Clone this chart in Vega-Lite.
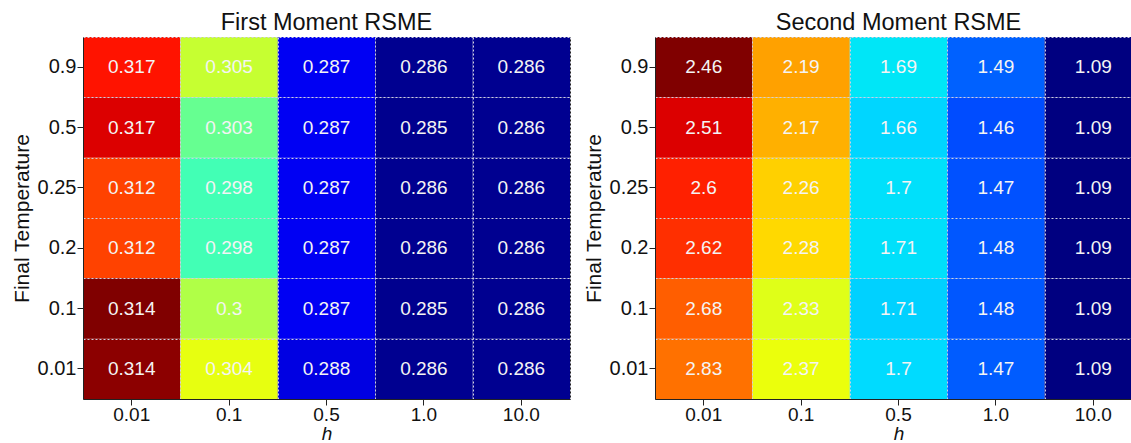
{
  "$schema": "https://vega.github.io/schema/vega-lite/v6.json",
  "padding": {"left": 10, "top": 10, "right": 0, "bottom": 0},
  "background": "white",
  "config": {
    "font": "Liberation Sans",
    "view": {"stroke": "#222", "strokeWidth": 1},
    "axis": {"labelFont": "Liberation Sans", "titleFont": "Liberation Sans", "labelColor": "#111", "titleColor": "#111", "domainColor": "#222", "tickColor": "#222", "labelFontSize": 20, "titleFontSize": 21, "titleFontWeight": "normal", "tickSize": 6, "labelPadding": 1},
    "title": {"fontSize": 23.5, "fontWeight": "normal", "font": "Liberation Sans", "color": "#111", "offset": 3}
  },
  "data": {"values": [
    {"m": "First", "t": "0.9", "h": "0.01", "v": 0.317, "s": 0.89},
    {"m": "First", "t": "0.9", "h": "0.1", "v": 0.305, "s": 0.59},
    {"m": "First", "t": "0.9", "h": "0.5", "v": 0.287, "s": 0.10},
    {"m": "First", "t": "0.9", "h": "1.0", "v": 0.286, "s": 0.014},
    {"m": "First", "t": "0.9", "h": "10.0", "v": 0.286, "s": 0.014},
    {"m": "First", "t": "0.5", "h": "0.01", "v": 0.317, "s": 0.92},
    {"m": "First", "t": "0.5", "h": "0.1", "v": 0.303, "s": 0.474},
    {"m": "First", "t": "0.5", "h": "0.5", "v": 0.287, "s": 0.10},
    {"m": "First", "t": "0.5", "h": "1.0", "v": 0.285, "s": 0.012},
    {"m": "First", "t": "0.5", "h": "10.0", "v": 0.286, "s": 0.014},
    {"m": "First", "t": "0.25", "h": "0.01", "v": 0.312, "s": 0.84},
    {"m": "First", "t": "0.25", "h": "0.1", "v": 0.298, "s": 0.43},
    {"m": "First", "t": "0.25", "h": "0.5", "v": 0.287, "s": 0.10},
    {"m": "First", "t": "0.25", "h": "1.0", "v": 0.286, "s": 0.014},
    {"m": "First", "t": "0.25", "h": "10.0", "v": 0.286, "s": 0.014},
    {"m": "First", "t": "0.2", "h": "0.01", "v": 0.312, "s": 0.84},
    {"m": "First", "t": "0.2", "h": "0.1", "v": 0.298, "s": 0.43},
    {"m": "First", "t": "0.2", "h": "0.5", "v": 0.287, "s": 0.10},
    {"m": "First", "t": "0.2", "h": "1.0", "v": 0.286, "s": 0.014},
    {"m": "First", "t": "0.2", "h": "10.0", "v": 0.286, "s": 0.014},
    {"m": "First", "t": "0.1", "h": "0.01", "v": 0.314, "s": 1.0},
    {"m": "First", "t": "0.1", "h": "0.1", "v": 0.3, "s": 0.564},
    {"m": "First", "t": "0.1", "h": "0.5", "v": 0.287, "s": 0.10},
    {"m": "First", "t": "0.1", "h": "1.0", "v": 0.285, "s": 0.012},
    {"m": "First", "t": "0.1", "h": "10.0", "v": 0.286, "s": 0.014},
    {"m": "First", "t": "0.01", "h": "0.01", "v": 0.314, "s": 0.99},
    {"m": "First", "t": "0.01", "h": "0.1", "v": 0.304, "s": 0.63},
    {"m": "First", "t": "0.01", "h": "0.5", "v": 0.288, "s": 0.085},
    {"m": "First", "t": "0.01", "h": "1.0", "v": 0.286, "s": 0.014},
    {"m": "First", "t": "0.01", "h": "10.0", "v": 0.286, "s": 0.014},
    {"m": "Second", "t": "0.9", "h": "0.01", "v": 2.46, "s": 1.0},
    {"m": "Second", "t": "0.9", "h": "0.1", "v": 2.19, "s": 0.74},
    {"m": "Second", "t": "0.9", "h": "0.5", "v": 1.69, "s": 0.35},
    {"m": "Second", "t": "0.9", "h": "1.0", "v": 1.49, "s": 0.22},
    {"m": "Second", "t": "0.9", "h": "10.0", "v": 1.09, "s": 0.0},
    {"m": "Second", "t": "0.5", "h": "0.01", "v": 2.51, "s": 0.92},
    {"m": "Second", "t": "0.5", "h": "0.1", "v": 2.17, "s": 0.724},
    {"m": "Second", "t": "0.5", "h": "0.5", "v": 1.66, "s": 0.335},
    {"m": "Second", "t": "0.5", "h": "1.0", "v": 1.46, "s": 0.20},
    {"m": "Second", "t": "0.5", "h": "10.0", "v": 1.09, "s": 0.0},
    {"m": "Second", "t": "0.25", "h": "0.01", "v": 2.6, "s": 0.876},
    {"m": "Second", "t": "0.25", "h": "0.1", "v": 2.26, "s": 0.69},
    {"m": "Second", "t": "0.25", "h": "0.5", "v": 1.7, "s": 0.345},
    {"m": "Second", "t": "0.25", "h": "1.0", "v": 1.47, "s": 0.205},
    {"m": "Second", "t": "0.25", "h": "10.0", "v": 1.09, "s": 0.0},
    {"m": "Second", "t": "0.2", "h": "0.01", "v": 2.62, "s": 0.86},
    {"m": "Second", "t": "0.2", "h": "0.1", "v": 2.28, "s": 0.68},
    {"m": "Second", "t": "0.2", "h": "0.5", "v": 1.71, "s": 0.345},
    {"m": "Second", "t": "0.2", "h": "1.0", "v": 1.48, "s": 0.21},
    {"m": "Second", "t": "0.2", "h": "10.0", "v": 1.09, "s": 0.0},
    {"m": "Second", "t": "0.1", "h": "0.01", "v": 2.68, "s": 0.81},
    {"m": "Second", "t": "0.1", "h": "0.1", "v": 2.33, "s": 0.62},
    {"m": "Second", "t": "0.1", "h": "0.5", "v": 1.71, "s": 0.33},
    {"m": "Second", "t": "0.1", "h": "1.0", "v": 1.48, "s": 0.21},
    {"m": "Second", "t": "0.1", "h": "10.0", "v": 1.09, "s": 0.0},
    {"m": "Second", "t": "0.01", "h": "0.01", "v": 2.83, "s": 0.79},
    {"m": "Second", "t": "0.01", "h": "0.1", "v": 2.37, "s": 0.635},
    {"m": "Second", "t": "0.01", "h": "0.5", "v": 1.7, "s": 0.34},
    {"m": "Second", "t": "0.01", "h": "1.0", "v": 1.47, "s": 0.215},
    {"m": "Second", "t": "0.01", "h": "10.0", "v": 1.09, "s": 0.0}
  ]},
  "spacing": 11,
  "hconcat": [
    {
      "title": "First Moment RSME",
      "width": 487,
      "height": 362,
      "transform": [{"filter": "datum.m === 'First'"}],
      "resolve": {"axis": {"x": "independent", "y": "independent"}},
      "layer": [
        {
          "mark": {"type": "rect"},
          "encoding": {
            "x": {"field": "h", "type": "ordinal", "sort": ["0.01", "0.1", "0.5", "1.0", "10.0"], "scale": {"paddingInner": 0, "paddingOuter": 0}, "axis": {"title": "h", "titleFontStyle": "italic", "titleFontSize": 19, "titlePadding": 0, "labelFontSize": 19, "labelPadding": 0, "labelAngle": 0, "grid": false, "orient": "bottom"}},
            "y": {"field": "t", "type": "ordinal", "sort": ["0.9", "0.5", "0.25", "0.2", "0.1", "0.01"], "scale": {"paddingInner": 0, "paddingOuter": 0}, "axis": {"title": "Final Temperature", "titlePadding": 5, "grid": false, "orient": "left"}},
            "color": {"field": "s", "type": "quantitative", "legend": null, "scale": {"domain": [0, 0.11, 0.125, 0.34, 0.35, 0.375, 0.64, 0.65, 0.66, 0.89, 0.91, 1], "range": ["#000080", "#0000FF", "#0000FF", "#00DBFF", "#00E6F7", "#15FFE2", "#EFFF08", "#F7F500", "#FFEC00", "#FF1300", "#E80000", "#800000"], "interpolate": "rgb"}}
          }
        },
        {
          "mark": {"type": "text", "fontSize": 19, "color": "#f4f4f4", "font": "Liberation Sans"},
          "encoding": {
            "x": {"field": "h", "type": "ordinal", "sort": ["0.01", "0.1", "0.5", "1.0", "10.0"], "axis": {"orient": "bottom", "tickBand": "extent", "grid": true, "gridColor": "#cfcfdf", "gridDash": [2, 2], "gridOpacity": 1, "gridWidth": 1, "labels": false, "ticks": false, "domain": false, "title": null, "zindex": 1}},
            "y": {"field": "t", "type": "ordinal", "sort": ["0.9", "0.5", "0.25", "0.2", "0.1", "0.01"], "axis": {"orient": "left", "tickBand": "extent", "grid": true, "gridColor": "#cfcfdf", "gridDash": [2, 2], "gridOpacity": 1, "gridWidth": 1, "labels": false, "ticks": false, "domain": false, "title": null, "zindex": 1}},
            "text": {"field": "v", "type": "nominal"}
          }
        }
      ]
    },
    {
      "title": "Second Moment RSME",
      "width": 487,
      "height": 362,
      "transform": [{"filter": "datum.m === 'Second'"}],
      "resolve": {"axis": {"x": "independent", "y": "independent"}},
      "layer": [
        {
          "mark": {"type": "rect"},
          "encoding": {
            "x": {"field": "h", "type": "ordinal", "sort": ["0.01", "0.1", "0.5", "1.0", "10.0"], "scale": {"paddingInner": 0, "paddingOuter": 0}, "axis": {"title": "h", "titleFontStyle": "italic", "titleFontSize": 19, "titlePadding": 0, "labelFontSize": 19, "labelPadding": 0, "labelAngle": 0, "grid": false, "orient": "bottom"}},
            "y": {"field": "t", "type": "ordinal", "sort": ["0.9", "0.5", "0.25", "0.2", "0.1", "0.01"], "scale": {"paddingInner": 0, "paddingOuter": 0}, "axis": {"title": "Final Temperature", "titlePadding": 5, "grid": false, "orient": "left"}},
            "color": {"field": "s", "type": "quantitative", "legend": null, "scale": {"domain": [0, 0.11, 0.125, 0.34, 0.35, 0.375, 0.64, 0.65, 0.66, 0.89, 0.91, 1], "range": ["#000080", "#0000FF", "#0000FF", "#00DBFF", "#00E6F7", "#15FFE2", "#EFFF08", "#F7F500", "#FFEC00", "#FF1300", "#E80000", "#800000"], "interpolate": "rgb"}}
          }
        },
        {
          "mark": {"type": "text", "fontSize": 19, "color": "#f4f4f4", "font": "Liberation Sans"},
          "encoding": {
            "x": {"field": "h", "type": "ordinal", "sort": ["0.01", "0.1", "0.5", "1.0", "10.0"], "axis": {"orient": "bottom", "tickBand": "extent", "grid": true, "gridColor": "#cfcfdf", "gridDash": [2, 2], "gridOpacity": 1, "gridWidth": 1, "labels": false, "ticks": false, "domain": false, "title": null, "zindex": 1}},
            "y": {"field": "t", "type": "ordinal", "sort": ["0.9", "0.5", "0.25", "0.2", "0.1", "0.01"], "axis": {"orient": "left", "tickBand": "extent", "grid": true, "gridColor": "#cfcfdf", "gridDash": [2, 2], "gridOpacity": 1, "gridWidth": 1, "labels": false, "ticks": false, "domain": false, "title": null, "zindex": 1}},
            "text": {"field": "v", "type": "nominal"}
          }
        }
      ]
    }
  ]
}
